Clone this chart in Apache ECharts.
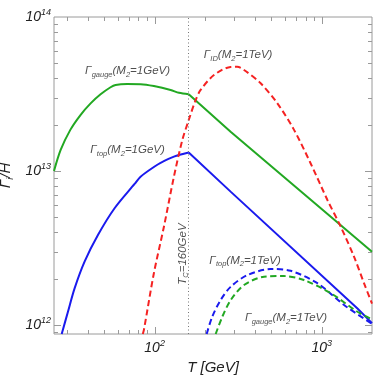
<!DOCTYPE html>
<html>
<head>
<meta charset="utf-8">
<script src="https://cdn.jsdelivr.net/npm/echarts@6/dist/echarts.min.js"></script>
<style>
    html, body { margin: 0; padding: 0; background: #fff; }
    #chart { width: 374px; height: 375px; }
</style>
</head>
<body>
<div id="chart"></div>
<script>
    // temperatures T [GeV] and rates Gamma/H
    var gaugeLowT  = [25, 27.4, 31.3, 36, 41.4, 47.5, 54.5, 58.4, 68.6, 82.5, 99, 124.7, 140, 160];
    var gaugeLowY  = [1.0e13, 1.37e13, 1.85e13, 2.31e13, 2.75e13, 3.15e13, 3.5e13, 3.62e13, 3.67e13, 3.66e13, 3.56e13, 3.36e13, 3.22e13, 3.15e13];
    var gaugeHighT = [160, 285, 2000];
    var gaugeHighY = [3.15e13, 1.8e13, 2.99e12];

    var topLowT  = [27.8, 30.3, 33.2, 38.1, 45.8, 57.6, 75.9, 82.4, 100, 108.6, 130.5, 160];
    var topLowY  = [8.75e11, 1.22e12, 1.73e12, 2.58e12, 3.84e12, 5.73e12, 8.24e12, 9.19e12, 1.07e13, 1.13e13, 1.24e13, 1.32e13];
    var topHighT = [160, 285, 1637, 2000];
    var topHighY = [1.32e13, 7.35e12, 1.28e12, 1.03e12];

    var idT = [85, 86.3, 99, 113.7, 130.5, 146.5, 160, 176, 188.5, 226.6, 285, 312, 343, 431, 543, 683, 859, 1082, 1300, 1561, 1791, 2000];
    var idY = [8.75e11, 9.3e11, 2.17e12, 4.35e12, 9.19e12, 1.59e13, 2.14e13, 2.89e13, 3.36e13, 4.2e13, 4.74e13, 4.75e13, 4.53e13, 3.71e13, 2.75e13, 1.85e13, 1.12e13, 6.49e12, 4.35e12, 2.78e12, 1.87e12, 1.38e12];

    var topTeVT = [205, 221, 248, 285, 359, 495, 652, 942, 1361, 2000];
    var topTeVY = [8.75e11, 1.13e12, 1.45e12, 1.77e12, 2.11e12, 2.31e12, 2.25e12, 1.87e12, 1.35e12, 1.02e12];

    var gaugeTeVT = [232, 254, 285, 343, 452, 594, 783, 1133, 1637, 2000];
    var gaugeTeVY = [8.75e11, 1.13e12, 1.45e12, 1.82e12, 2.06e12, 2.08e12, 1.96e12, 1.61e12, 1.22e12, 1.09e12];

    var tcValue = 160;

    // tick positions
    var xMajorTicks = [100, 1000];
    var xMinorTicks = [30, 40, 50, 60, 70, 80, 90, 200, 300, 400, 500, 600, 700, 800, 900];
    var yMajorTicks = [1e12, 1e13];
    var yMinorTicks = [9e11, 2e12, 3e12, 4e12, 5e12, 6e12, 7e12, 8e12, 9e12,
                       2e13, 3e13, 4e13, 5e13, 6e13, 7e13, 8e13, 9e13];

    // annotations
    var noteText = [
        '{n|Γ}{s|gauge}{n|(M}{s|2}{n|=1GeV)}',
        '{n|Γ}{s|ID}{n|(M}{s|2}{n|=1TeV)}',
        '{n|Γ}{s|top}{n|(M}{s|2}{n|=1GeV)}',
        '{n|Γ}{s|top}{n|(M}{s|2}{n|=1TeV)}',
        '{n|Γ}{s|gauge}{n|(M}{s|2}{n|=1TeV)}',
        '{n|T}{s|C}{n|=160GeV}'
    ];
    var noteT = [68.9, 316, 68.9, 348, 612, 147];
    var noteY = [4.46e13, 5.67e13, 1.37e13, 2.61e12, 1.11e12, 2.89e12];
    var noteRotate = [0, 0, 0, 0, 0, 90];

    var GREEN = '#22a822';
    var BLUE = '#1a1aee';
    var RED = '#f52222';
    var TXT = '#222';
    var FRAME = '#9a9a9a';
    var FONT = '"Liberation Sans", Arial, sans-serif';

    function pairs(xs, ys) {
        return xs.map(function (x, i) { return [x, ys[i]]; });
    }

    function isPow10(v) {
        var lg = Math.log10(v);
        return Math.abs(lg - Math.round(lg)) < 1e-6;
    }

    function powLabel(v) {
        if (!isPow10(v)) return '';
        return '{b|10}{t|' + Math.round(Math.log10(v)) + '}';
    }

    var powRich = {
        b: { fontSize: 14, lineHeight: 18, fontStyle: 'italic', fontFamily: FONT, color: '#222' },
        t: { fontSize: 9, verticalAlign: 'top', fontStyle: 'italic', fontFamily: FONT, color: '#222' }
    };
    var subRich = {
        n: { fontSize: 11.5, lineHeight: 15, fontStyle: 'italic', fontFamily: FONT, color: TXT },
        s: { fontSize: 7.5, verticalAlign: 'bottom', fontStyle: 'italic', fontFamily: FONT, color: TXT }
    };

    // frame ticks drawn on all four sides
    function tickSeries(values, len, dir) {
        var data = values.map(function (v) {
            return dir === 'x' ? [v, 1e13] : [100, v];
        });
        return {
            type: 'custom',
            silent: true,
            z: 1,
            data: data,
            renderItem: function (params, api) {
                var cs = params.coordSys;
                var p = api.coord([api.value(0), api.value(1)]);
                var lines;
                if (dir === 'x') {
                    var x = Math.round(p[0]) + 0.5;
                    lines = [
                        [x, cs.y + cs.height, x, cs.y + cs.height - len],
                        [x, cs.y, x, cs.y + len]
                    ];
                } else {
                    var y = Math.round(p[1]) + 0.5;
                    lines = [
                        [cs.x, y, cs.x + len, y],
                        [cs.x + cs.width, y, cs.x + cs.width - len, y]
                    ];
                }
                return {
                    type: 'group',
                    children: lines.map(function (l) {
                        return {
                            type: 'line',
                            shape: { x1: l[0], y1: l[1], x2: l[2], y2: l[3] },
                            style: { stroke: FRAME, lineWidth: 1 }
                        };
                    })
                };
            }
        };
    }

    function lineSeries(name, xs, ys, color, dashed, smooth) {
        return {
            name: name,
            type: 'line',
            data: pairs(xs, ys),
            showSymbol: false,
            symbol: 'none',
            smooth: smooth,
            z: 3,
            lineStyle: { color: color, width: 2, type: dashed ? [6, 3.5] : 'solid' }
        };
    }

    var chart = echarts.init(document.getElementById('chart'));

    var series = [
        tickSeries(xMajorTicks, 7, 'x'),
        tickSeries(xMinorTicks, 4, 'x'),
        tickSeries(yMajorTicks, 7, 'y'),
        tickSeries(yMinorTicks, 4, 'y'),
        lineSeries('gaugeLow', gaugeLowT, gaugeLowY, GREEN, false, 0.3),
        lineSeries('gaugeHigh', gaugeHighT, gaugeHighY, GREEN, false, false),
        lineSeries('topLow', topLowT, topLowY, BLUE, false, 0.3),
        lineSeries('topHigh', topHighT, topHighY, BLUE, false, false),
        lineSeries('id', idT, idY, RED, true, 0.3),
        lineSeries('topTeV', topTeVT, topTeVY, BLUE, true, 0.3),
        lineSeries('gaugeTeV', gaugeTeVT, gaugeTeVY, GREEN, true, 0.3),
        {
            type: 'scatter',
            symbolSize: 1,
            silent: true,
            z: 4,
            itemStyle: { color: 'rgba(0,0,0,0)' },
            data: noteT.map(function (t, i) {
                return {
                    value: [t, noteY[i]],
                    label: {
                        show: true,
                        position: 'inside',
                        rotate: noteRotate[i],
                        formatter: noteText[i],
                        rich: subRich
                    }
                };
            }),
            markLine: {
                silent: true,
                symbol: ['none', 'none'],
                label: { show: false },
                lineStyle: { color: '#777', width: 1, type: [1, 2.5] },
                data: [{ xAxis: tcValue }]
            }
        }
    ];

    var option = {
        animation: false,
        backgroundColor: '#fff',
        grid: {
            left: 54, right: 2, top: 17, bottom: 41,
            show: true, borderColor: FRAME, borderWidth: 1,
            outerBoundsMode: 'none'
        },
        xAxis: {
            type: 'log',
            logBase: 10,
            min: 25,
            max: 2000,
            axisLine: { show: false },
            axisTick: { show: false },
            splitLine: { show: false },
            axisLabel: {
                margin: 5,
                showMinLabel: false,
                showMaxLabel: false,
                formatter: powLabel,
                rich: powRich
            },
            name: 'T [GeV]',
            nameLocation: 'middle',
            nameGap: 19,
            nameTextStyle: { fontSize: 15, fontStyle: 'italic', fontFamily: FONT, color: '#222' }
        },
        yAxis: {
            type: 'log',
            logBase: 10,
            min: 8.75e11,
            max: 1e14,
            axisLine: { show: false },
            axisTick: { show: false },
            splitLine: { show: false },
            axisLabel: {
                margin: 3,
                showMinLabel: false,
                formatter: powLabel,
                rich: powRich
            },
            name: '{n|Γ}{s|i}{n|/H}',
            nameLocation: 'middle',
            nameGap: 38,
            nameTextStyle: {
                rich: {
                    n: { fontSize: 15, lineHeight: 18, fontStyle: 'italic', fontFamily: FONT, color: '#222' },
                    s: { fontSize: 9, verticalAlign: 'bottom', fontStyle: 'italic', fontFamily: FONT, color: '#222' }
                }
            }
        },
        series: series
    };

    chart.setOption(option);
</script>
</body>
</html>
